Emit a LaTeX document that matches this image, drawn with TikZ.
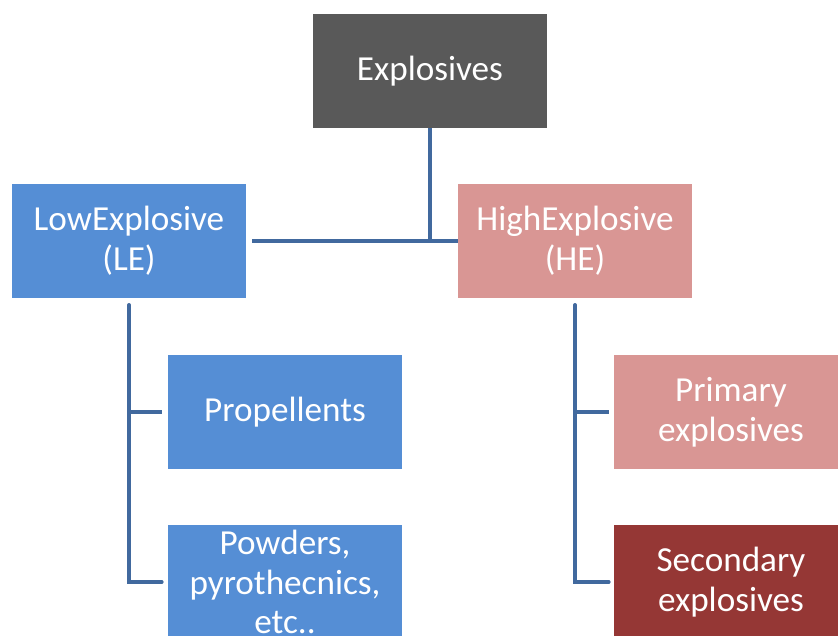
\documentclass[tikz,border=0pt]{standalone}
\usepackage{fontspec}
\setmainfont{Carlito}
\usepackage{xcolor}
\usetikzlibrary{positioning, calc}
\definecolor{topgray}{HTML}{595959}
\definecolor{lowblue}{HTML}{558ED5}
\definecolor{highpink}{HTML}{D99694}
\definecolor{secred}{HTML}{953735}
\definecolor{linkblue}{HTML}{41699E}
\tikzset{
  catbox/.style={
    rectangle, align=center, text=white, inner sep=0pt,
    minimum width=7.02cm, minimum height=3.42cm,
    font=\fontsize{30}{34}\selectfont
  },
  treeline/.style={
    draw=linkblue, line width=3.2pt
  },
}

\begin{document}
\begin{tikzpicture}[x=0.03cm, y=-0.03cm]
  \useasboundingbox (0,0) rectangle (838,635);
  \clip (0,0) rectangle (838,635);

  % --- Top ---
  \node[catbox, fill=topgray] (explosives) at (430,71) {Explosives};

  % --- Main classes ---
  \node[catbox, fill=lowblue] (lowexp) at (129,241) {LowExplosive\\(LE)};
  \node[catbox, fill=highpink] (highexp) at (575,241) {HighExplosive\\(HE)};

  % --- Low explosive kinds ---
  \node[catbox, fill=lowblue] (propel) at (285,412) {Propellents};
  \node[catbox, fill=lowblue] (powders) at (285,582)
    {Powders,\\pyrothecnics,\\etc..};

  % --- High explosive kinds ---
  \node[catbox, fill=highpink] (primary) at (731,412)
    {Primary\\explosives};
  \node[catbox, fill=secred] (secondary) at (731,582)
    {Secondary\\explosives};

  % --- Connectors ---
  \coordinate (junc) at (explosives.south |- highexp.west);
  \draw[treeline] (explosives.south) -- (junc);
  \draw[treeline, shorten <=0.18cm] (lowexp.east) -- (highexp.west);

  \draw[treeline, shorten >=0.18cm, line cap=round]
    ([yshift=-0.2cm]lowexp.south) -- (lowexp.south |- powders.west)
    -- (powders.west);
  \draw[treeline, shorten >=0.18cm] (lowexp.south |- propel.west) -- (propel.west);

  \draw[treeline, shorten >=0.15cm, line cap=round]
    ([yshift=-0.2cm]highexp.south) -- (highexp.south |- secondary.west)
    -- (secondary.west);
  \draw[treeline, shorten >=0.15cm] (highexp.south |- primary.west) -- (primary.west);
\end{tikzpicture}
\end{document}
